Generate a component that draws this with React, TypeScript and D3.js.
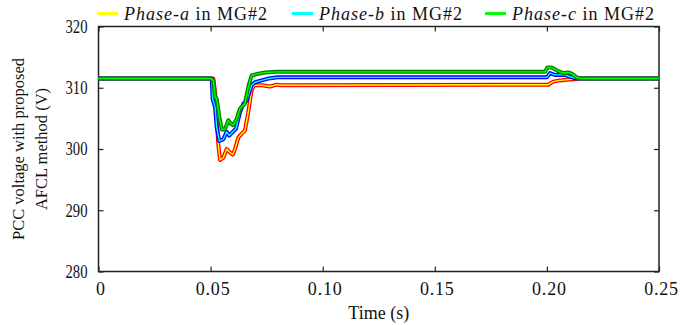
import { useEffect, useRef } from "react";
import * as d3 from "d3";

// phase-a (red / yellow)
const timeA = [0, 0.0512, 0.052, 0.0527, 0.0534, 0.0542, 0.0557, 0.0572, 0.0587, 0.0599, 0.0609, 0.0624, 0.0639, 0.0653, 0.0668, 0.0683, 0.0694, 0.0728, 0.0765, 0.0795, 0.0817, 0.2006, 0.2028, 0.2058, 0.2088, 0.2118, 0.2148, 0.25];
const voltA = [311.5, 311.5, 309.3, 305.2, 300.9, 298.2, 298.6, 300.0, 299.4, 299.1, 300.0, 301.9, 302.5, 303.0, 306.0, 309.6, 310.4, 310.4, 310.2, 310.5, 310.4, 310.5, 311.0, 311.2, 311.3, 311.4, 311.5, 311.5];

// phase-b (blue / cyan)
const timeB = [0, 0.0505, 0.0509, 0.052, 0.0527, 0.0539, 0.0557, 0.0572, 0.0583, 0.0599, 0.0613, 0.0631, 0.0646, 0.0661, 0.0683, 0.0698, 0.0728, 0.0757, 0.08, 0.2, 0.2014, 0.2035, 0.2081, 0.2103, 0.2133, 0.25];
const voltB = [311.5, 311.5, 308.2, 306.8, 303.6, 301.3, 301.6, 302.8, 302.2, 302.8, 303.3, 306.0, 307.4, 307.9, 310.4, 310.9, 311.2, 311.5, 311.7, 311.7, 312.4, 312.1, 312.1, 311.8, 311.5, 311.5];

// phase-c (dark green / green)
const timeC = [0, 0.05, 0.0512, 0.052, 0.0527, 0.0539, 0.055, 0.0564, 0.0579, 0.059, 0.0601, 0.0616, 0.0631, 0.0653, 0.0668, 0.0683, 0.0713, 0.0743, 0.0795, 0.1992, 0.2002, 0.2021, 0.2051, 0.2073, 0.2095, 0.2111, 0.2133, 0.2155, 0.25];
const voltC = [311.5, 311.5, 311.2, 308.5, 308.2, 305.2, 303.2, 303.2, 304.7, 304.1, 303.9, 304.9, 306.6, 307.4, 310.1, 312.0, 312.3, 312.5, 312.6, 312.6, 313.3, 313.3, 312.7, 312.4, 312.5, 312.3, 311.7, 311.5, 311.5];

const xTicks = [0, 0.05, 0.1, 0.15, 0.2, 0.25];
const xTickLabels = ["0", "0.05", "0.10", "0.15", "0.20", "0.25"];
const yTicks = [280, 290, 300, 310, 320];

const seriesNames = ["a", "b", "c"];
const outerColors = ["#ff0000", "#0000ff", "#008000"];
const innerColors = ["#ffff00", "#00ffff", "#00ff00"];

const FONT = "'Liberation Serif', 'Times New Roman', serif";

export default function App() {
  const svgRef = useRef<SVGSVGElement>(null);

  useEffect(() => {
    const width = 681;
    const height = 325;
    const left = 98.5;
    const right = 659;
    const top = 26.5;
    const bottom = 271.5;

    const svg = d3.select(svgRef.current).attr("width", width).attr("height", height);
    svg.selectAll("*").remove();

    const xScale = d3.scaleLinear().domain([0, 0.25]).range([left, right]);
    const yScale = d3.scaleLinear().domain([280, 320]).range([bottom, top]);

    const styleAxis = (g: any) => {
      g.select(".domain").remove();
      g.selectAll("line").attr("stroke", "#222").attr("stroke-width", 1.2);
      g.selectAll("text")
        .attr("font-family", FONT)
        .attr("font-size", 18)
        .attr("fill", "#111");
    };

    // bottom axis
    svg
      .append("g")
      .attr("transform", `translate(0, ${bottom})`)
      .call(
        d3
          .axisBottom(xScale)
          .tickValues(xTicks)
          .tickFormat((d, i) => xTickLabels[i])
          .tickSizeInner(-5)
          .tickSizeOuter(0)
          .tickPadding(10.5)
      )
      .call(styleAxis)
      .selectAll("text")
      .attr("letter-spacing", "0.8px")
      .attr("dx", 2);

    // top axis
    svg
      .append("g")
      .attr("transform", `translate(0, ${top})`)
      .call(d3.axisTop(xScale).tickValues(xTicks).tickFormat(() => "").tickSizeInner(-5).tickSizeOuter(0))
      .call(styleAxis);

    // left axis
    svg
      .append("g")
      .attr("transform", `translate(${left}, 0)`)
      .call(d3.axisLeft(yScale).tickValues(yTicks).tickFormat(d3.format("d")).tickSizeInner(-5).tickSizeOuter(0).tickPadding(11))
      .call(styleAxis)
      .selectAll("text")
      .attr("textLength", 22)
      .attr("lengthAdjust", "spacingAndGlyphs");

    // right axis
    svg
      .append("g")
      .attr("transform", `translate(${right}, 0)`)
      .call(d3.axisRight(yScale).tickValues(yTicks).tickFormat(() => "").tickSizeInner(-5).tickSizeOuter(0))
      .call(styleAxis);

    // frame
    svg
      .append("rect")
      .attr("x", left)
      .attr("y", top)
      .attr("width", right - left)
      .attr("height", bottom - top)
      .attr("fill", "none")
      .attr("stroke", "#222")
      .attr("stroke-width", 1.5);

    // line chart
    const lineGenerator = d3
      .line<[number, number]>()
      .x((d) => xScale(d[0]))
      .y((d) => yScale(d[1]));

    const allSeries = [
      timeA.map((t, i) => [t, voltA[i]] as [number, number]),
      timeB.map((t, i) => [t, voltB[i]] as [number, number]),
      timeC.map((t, i) => [t, voltC[i]] as [number, number]),
    ];

    const lines = svg.append("g");
    allSeries.forEach((pts, i) => {
      lines
        .append("path")
        .attr("d", lineGenerator(pts))
        .attr("fill", "none")
        .attr("stroke", outerColors[i])
        .attr("stroke-width", 4)
        .attr("stroke-linejoin", "round");
      lines
        .append("path")
        .attr("d", lineGenerator(pts))
        .attr("fill", "none")
        .attr("stroke", innerColors[i])
        .attr("stroke-width", 1.4)
        .attr("stroke-linejoin", "round");
    });

    // legend
    const legendX = [97, 292, 485];
    const legend = svg.append("g");
    seriesNames.forEach((name, i) => {
      legend
        .append("line")
        .attr("x1", legendX[i])
        .attr("x2", legendX[i] + 21)
        .attr("y1", 13.5)
        .attr("y2", 13.5)
        .attr("stroke", innerColors[i])
        .attr("stroke-width", 3);
      const txt = legend
        .append("text")
        .attr("x", legendX[i] + 27)
        .attr("y", 19.5)
        .attr("font-family", FONT)
        .attr("font-size", 18)
        .attr("letter-spacing", "1px")
        .attr("fill", "#111");
      txt.append("tspan").attr("font-style", "italic").text(`Phase-${name}`);
      txt.append("tspan").text(" in MG#2");
    });

    // axis titles
    svg
      .append("text")
      .attr("x", (left + right) / 2)
      .attr("y", 319)
      .attr("text-anchor", "middle")
      .attr("font-family", FONT)
      .attr("font-size", 18)
      .attr("fill", "#111")
      .text("Time (s)");

    const yTitle = svg
      .append("g")
      .attr("transform", `translate(0, ${(top + bottom) / 2}) rotate(-90)`);
    yTitle
      .append("text")
      .attr("x", 0)
      .attr("y", 24)
      .attr("text-anchor", "middle")
      .attr("font-family", FONT)
      .attr("font-size", 16.5)
      .attr("fill", "#111")
      .text("PCC voltage with proposed");
    yTitle
      .append("text")
      .attr("x", 0)
      .attr("y", 47)
      .attr("text-anchor", "middle")
      .attr("font-family", FONT)
      .attr("font-size", 16.5)
      .attr("fill", "#111")
      .text("AFCL method (V)");
  }, []);

  return (
    <div style={{ position: "absolute", left: 0, top: 0, background: "#fff" }}>
      <svg ref={svgRef} style={{ display: "block" }}></svg>
    </div>
  );
}
